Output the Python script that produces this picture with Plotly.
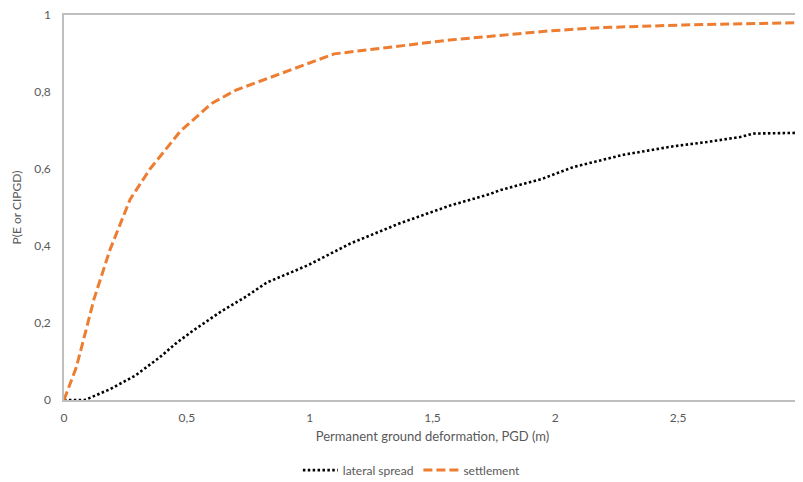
import plotly.graph_objects as go

# lateral spread curve
lat_x = [0.0, 0.085, 0.187, 0.289, 0.39, 0.459, 0.525, 0.635, 0.744, 0.825, 0.993,
         1.164, 1.367, 1.571, 1.734, 1.775, 1.944, 2.073, 2.277, 2.48, 2.616, 2.752, 2.806, 3.0]
lat_y = [0.0, 0.0, 0.028, 0.063, 0.111, 0.149, 0.18, 0.228, 0.27, 0.305, 0.35,
         0.406, 0.459, 0.505, 0.535, 0.545, 0.574, 0.605, 0.637, 0.659, 0.67, 0.683, 0.692, 0.694]

# settlement curve
set_x = [0.0, 0.05, 0.085, 0.122, 0.187, 0.269, 0.35, 0.472, 0.6, 0.7, 1.1,
         1.57, 1.98, 2.18, 2.52, 3.0]
set_y = [0.0, 0.085, 0.17, 0.262, 0.39, 0.521, 0.60, 0.697, 0.77, 0.805, 0.899,
         0.935, 0.959, 0.967, 0.974, 0.98]

x_ticks = [0, 0.5, 1, 1.5, 2, 2.5, 3]
y_ticks = [0, 0.2, 0.4, 0.6, 0.8, 1]

FONT = "Lato"
GRAY = "#595959"
AXIS = "#BFBFBF"


def fmt(v):
    return str(v).replace(".", ",") if v % 1 else str(int(v))


fig = go.Figure()
fig.add_trace(go.Scatter(x=lat_x, y=lat_y, mode="lines", name="lateral spread",
                         line=dict(color="#000000", width=2.6, dash="2.5px,2.4px")))
fig.add_trace(go.Scatter(x=set_x, y=set_y, mode="lines", name="settlement",
                         line=dict(color="#ED7D31", width=3, dash="9px,4px")))

# page body has an 8px margin, so the figure is offset to compensate
fig.update_layout(
    width=803, height=482,
    margin=dict(l=56, r=10, t=7, b=89),
    paper_bgcolor="white", plot_bgcolor="white",
    separators=", ",
    font=dict(family=FONT, size=12, color=GRAY),
    showlegend=True,
    legend=dict(orientation="h", x=0.472, xanchor="center", y=-0.179, yanchor="middle",
                font=dict(family=FONT, size=12, color=GRAY), itemwidth=35,
                tracegroupgap=0),
    xaxis=dict(range=[0, 3], tickvals=x_ticks, ticktext=[fmt(v) for v in x_ticks],
               automargin=False, ticklabeloverflow="allow",
               showgrid=False, zeroline=False, showline=True, linecolor=AXIS, linewidth=1.5,
               mirror=True, ticks="", ticklabelstandoff=6,
               tickfont=dict(family=FONT, size=12, color=GRAY),
               title=dict(text="Permanent ground deformation, PGD (m)", standoff=8,
                          font=dict(family=FONT, size=13, color=GRAY))),
    yaxis=dict(range=[0, 1], tickvals=y_ticks, ticktext=[fmt(v) for v in y_ticks],
               automargin=False, ticklabeloverflow="allow",
               showgrid=False, zeroline=False, showline=True, linecolor=AXIS, linewidth=1.5,
               mirror=True, ticks="", ticklabelstandoff=9,
               tickfont=dict(family=FONT, size=12, color=GRAY),
               title=dict(text="P(E or CIPGD)", standoff=10,
                          font=dict(family=FONT, size=12, color=GRAY))),
)

fig.write_html("out.html")
